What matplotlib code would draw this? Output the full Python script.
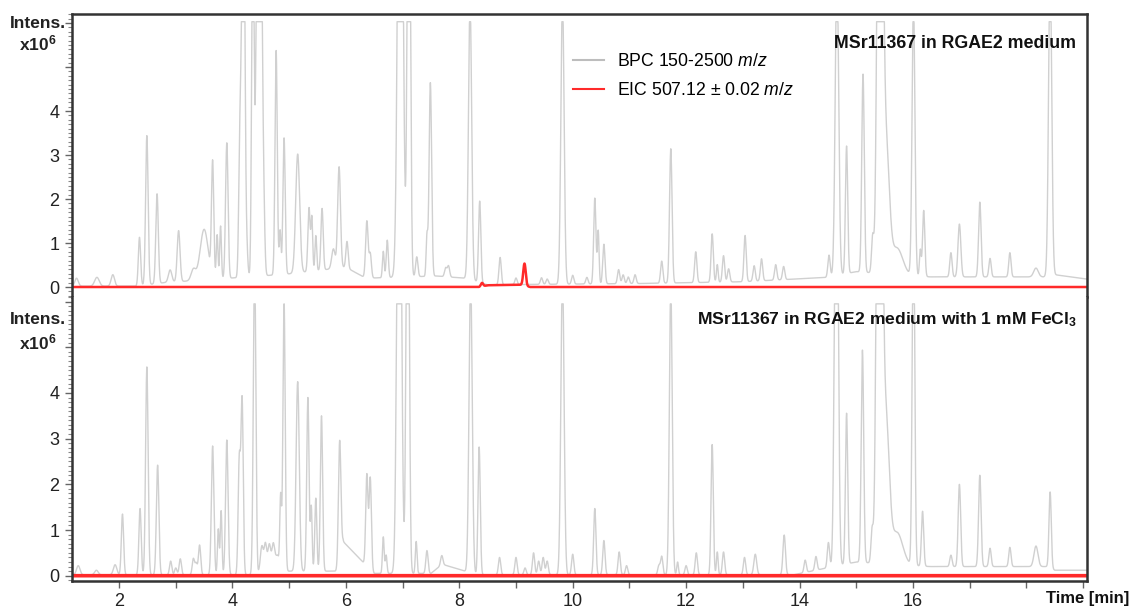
import numpy as np
import matplotlib
matplotlib.use("Agg")
import matplotlib.pyplot as plt
from matplotlib.ticker import MultipleLocator, FixedLocator, FuncFormatter
from matplotlib.lines import Line2D

plt.rcParams['font.family'] = ['Liberation Sans', 'DejaVu Sans']
plt.rcParams['mathtext.fontset'] = 'custom'
plt.rcParams['mathtext.rm'] = 'Liberation Sans'
plt.rcParams['mathtext.it'] = 'Liberation Sans:italic'
plt.rcParams['mathtext.bf'] = 'Liberation Sans:bold'
plt.rcParams['mathtext.default'] = 'regular'

# ---- data (retention time [min], height [x10^6], peak sigma [min])
top_rt = [1.25, 1.61, 1.89, 2.36, 2.49, 2.67, 2.90, 3.05, 3.31, 3.50, 3.65, 3.73, 3.79,
          3.90, 4.13, 4.19, 4.25, 4.36, 4.47, 4.55, 4.77, 4.84, 4.91, 5.15, 5.35, 5.40,
          5.47, 5.58, 5.78, 5.88, 6.02, 6.37, 6.43, 6.66, 6.73, 6.96, 7.11, 7.25, 7.43,
          7.49, 7.76, 7.81, 8.19, 8.36, 8.72, 9.00, 9.45, 9.55, 9.82, 10.00, 10.25, 10.39,
          10.45, 10.55, 10.81, 10.89, 10.98, 11.10, 11.57, 11.73, 12.17, 12.46, 12.55,
          12.66, 12.75, 13.04, 13.20, 13.33, 13.58, 13.72, 14.52, 14.66, 14.83, 15.12,
          15.29, 15.42, 15.52, 15.72, 16.01, 16.13, 16.19, 16.67, 16.82, 17.18, 17.36,
          17.71, 18.17, 18.42]
top_h = [0.18, 0.20, 0.26, 1.10, 3.39, 2.04, 0.28, 1.16, 0.25, 1.15, 2.60, 1.00, 1.20,
         3.08, 3.00, 12.0, 0.60, 9.0, 20.0, 1.20, 5.10, 1.00, 3.10, 2.70, 1.45, 1.20,
         0.80, 1.40, 0.45, 2.30, 0.60, 1.30, 0.55, 0.60, 0.85, 16.0, 14.0, 0.45, 0.90,
         4.40, 0.20, 0.25, 6.3, 1.85, 0.62, 0.15, 0.15, 0.12, 6.5, 0.20, 0.15, 1.95,
         1.20, 0.90, 0.32, 0.20, 0.15, 0.20, 0.50, 3.05, 0.70, 1.10, 0.40,
         0.60, 0.30, 1.05, 0.35, 0.50, 0.35, 0.30, 0.50, 7.0, 2.90, 4.50,
         0.80, 18.0, 3.0, 0.6, 6.2, 0.60, 1.50, 0.55, 1.20, 1.70, 0.42,
         0.55, 0.20, 7.0]
top_w = [0.03, 0.04, 0.03, 0.02, 0.022, 0.022, 0.03, 0.025, 0.04, 0.07, 0.02, 0.015, 0.015,
         0.022, 0.02, 0.025, 0.02, 0.02, 0.035, 0.02, 0.02, 0.015, 0.02, 0.035, 0.02, 0.015,
         0.015, 0.02, 0.03, 0.025, 0.02, 0.022, 0.02, 0.015, 0.018, 0.04, 0.025, 0.02, 0.015,
         0.022, 0.02, 0.02, 0.028, 0.02, 0.02, 0.02, 0.02, 0.02, 0.028, 0.02, 0.02, 0.02,
         0.015, 0.02, 0.02, 0.02, 0.02, 0.02, 0.02, 0.022, 0.02, 0.02, 0.015,
         0.02, 0.02, 0.02, 0.02, 0.02, 0.02, 0.02, 0.02, 0.03, 0.02, 0.022,
         0.02, 0.04, 0.06, 0.10, 0.025, 0.015, 0.02, 0.02, 0.025, 0.022, 0.02,
         0.02, 0.04, 0.028]
top_base_t = [1.17, 2.3, 2.8, 4.5, 5.0, 6.0, 6.35, 7.6, 8.1, 8.5, 11.2, 13.0, 14.5, 15.0,
              16.3, 18.3, 18.5, 19.07]
top_base_h = [0.02, 0.02, 0.10, 0.25, 0.30, 0.45, 0.20, 0.25, 0.20, 0.05, 0.08, 0.12, 0.22,
              0.35, 0.23, 0.23, 0.28, 0.18]

eic_rt = [8.40, 9.15]
eic_h = [0.08, 0.50]
eic_w = [0.02, 0.022]
eic_base_t = [1.17, 8.35, 8.50, 9.10, 9.25, 19.07]
eic_base_h = [0.0, 0.0, 0.04, 0.05, 0.0, 0.0]

bot_rt = [1.28, 1.60, 1.93, 2.06, 2.37, 2.49, 2.68, 2.91, 3.00, 3.08, 3.31, 3.36, 3.42,
          3.65, 3.75, 3.80, 3.90, 4.12, 4.17, 4.39, 4.52, 4.58, 4.65, 4.72, 4.85, 4.91,
          5.15, 5.33, 5.39, 5.47, 5.57, 5.89, 6.37, 6.43, 6.66, 6.71, 6.94, 7.09, 7.24,
          7.43, 7.69, 8.20, 8.35, 8.71, 9.00, 9.16, 9.31, 9.40, 9.48, 9.55, 9.82, 10.00,
          10.39, 10.55, 10.82, 10.95, 11.52, 11.57, 11.73, 11.85, 12.00, 12.18, 12.46,
          12.55, 12.66, 13.03, 13.22, 13.73, 14.10, 14.29, 14.51, 14.65, 14.83, 15.11,
          15.28, 15.41, 15.52, 15.72, 16.01, 16.17, 16.67, 16.82, 17.18, 17.36, 17.71,
          18.17, 18.42]
bot_h = [0.20, 0.10, 0.22, 1.33, 1.45, 4.55, 2.40, 0.30, 0.15, 0.35, 0.35, 0.25, 0.65,
         2.82, 1.00, 1.40, 2.95, 2.50, 3.80, 7.0, 0.30, 0.35, 0.30, 0.30, 1.60, 5.9,
         4.15, 3.80, 1.40, 1.60, 3.40, 2.60, 2.00, 2.00, 0.80, 0.40, 14.0, 12.0, 0.70,
         0.50, 0.20, 6.5, 2.80, 0.38, 0.38, 0.15, 0.48, 0.30, 0.38, 0.30, 6.6, 0.45,
         1.45, 0.75, 0.50, 0.20, 0.20, 0.40, 6.3, 0.28, 0.20, 0.48, 2.85,
         0.50, 0.50, 0.38, 0.45, 0.87, 0.27, 0.30, 0.55, 12.0, 3.30, 4.65,
         0.70, 20.0, 3.2, 0.7, 8.0, 1.20, 0.25, 1.80, 2.00, 0.40, 0.42,
         0.45, 1.65]
bot_w = [0.03, 0.03, 0.03, 0.02, 0.02, 0.022, 0.022, 0.02, 0.02, 0.02, 0.02, 0.02, 0.02,
         0.022, 0.015, 0.015, 0.022, 0.02, 0.02, 0.022, 0.02, 0.02, 0.02, 0.02, 0.015, 0.02,
         0.028, 0.02, 0.015, 0.018, 0.02, 0.022, 0.02, 0.02, 0.015, 0.015, 0.035, 0.025, 0.015,
         0.02, 0.02, 0.028, 0.02, 0.02, 0.02, 0.02, 0.02, 0.02, 0.02, 0.02, 0.028, 0.02,
         0.02, 0.02, 0.02, 0.02, 0.02, 0.02, 0.025, 0.015, 0.02, 0.02, 0.02,
         0.015, 0.02, 0.02, 0.025, 0.022, 0.02, 0.02, 0.02, 0.03, 0.02, 0.022,
         0.02, 0.04, 0.06, 0.10, 0.022, 0.02, 0.02, 0.022, 0.022, 0.02, 0.02,
         0.035, 0.02]
bot_base_t = [1.17, 4.45, 4.50, 4.80, 4.86, 5.85, 5.95, 6.30, 6.50, 7.50, 7.70, 8.10, 8.20,
              13.9, 14.6, 15.0, 16.3, 18.4, 18.5, 19.07]
bot_base_h = [0.02, 0.02, 0.35, 0.45, 0.10, 0.10, 0.75, 0.30, 0.05, 0.05, 0.25, 0.10, 0.02,
              0.02, 0.20, 0.30, 0.20, 0.20, 0.12, 0.12]

TOP_SAT = 6.03   # detector saturation seen as flat tops
BOT_SAT = 5.95


def trace(t, rts, hs, ws, base_t, base_h, cap=None):
    y = np.interp(t, base_t, base_h)
    for rt, h, w in zip(rts, hs, ws):
        y = y + h * np.exp(-0.5 * ((t - rt) / w) ** 2)
    if cap is not None:
        y = np.minimum(y, cap)
    return y


t = np.linspace(1.17, 19.07, 8000)
bpc_top = trace(t, top_rt, top_h, top_w, top_base_t, top_base_h, TOP_SAT)
eic_top = trace(t, eic_rt, eic_h, eic_w, eic_base_t, eic_base_h)
bpc_bot = trace(t, bot_rt, bot_h, bot_w, bot_base_t, bot_base_h, BOT_SAT)
eic_bot = np.zeros_like(t)

W, H = 1131, 611
fig = plt.figure(figsize=(W / 100, H / 100), dpi=100)
left, right = 72, 1087
ax1 = fig.add_axes([left / W, (H - 297) / H, (right - left) / W, (297 - 14) / H])
ax2 = fig.add_axes([left / W, (H - 581) / H, (right - left) / W, (581 - 297) / H])

gray = '#d0d0d0'
red = '#ff2a2a'
ax1.plot(t, bpc_top, color=gray, lw=1.0)
ax1.plot(t, eic_top, color=red, lw=1.8)
ax2.plot(t, bpc_bot, color=gray, lw=1.0)
ax2.plot(t, eic_bot, color=red, lw=2.6)

ax1.set_ylim(-0.227, 6.205)
ax2.set_ylim(-0.116, 6.10)

for ax in (ax1, ax2):
    ax.set_xlim(1.17, 19.07)
    ax.yaxis.set_major_locator(FixedLocator([0, 1, 2, 3, 4, 5, 6]))
    ax.yaxis.set_major_formatter(FuncFormatter(lambda v, p: '%d' % v if v <= 4 else ''))
    ax.yaxis.set_minor_locator(MultipleLocator(0.1))
    ax.tick_params(axis='y', which='major', length=5, width=1, color='#666666',
                   labelsize=13, labelcolor='#222222', pad=4)
    ax.tick_params(axis='y', which='minor', length=3, width=0.8, color='#888888')
    for s in ('left', 'right'):
        ax.spines[s].set_color('#333333')
        ax.spines[s].set_linewidth(1.8)

ax1.spines['bottom'].set_visible(False)
ax2.spines['top'].set_visible(False)
ax1.spines['top'].set_color('#333333')
ax1.spines['top'].set_linewidth(1.8)
ax2.spines['bottom'].set_color('#333333')
ax2.spines['bottom'].set_linewidth(1.8)
ax1.tick_params(axis='x', bottom=False, labelbottom=False)

ax2.xaxis.set_major_locator(MultipleLocator(1))
ax2.xaxis.set_major_formatter(
    FuncFormatter(lambda v, p: '%d' % v if (round(v) % 2 == 0 and v <= 16) else ''))
ax2.tick_params(axis='x', length=5, width=1, color='#666666', labelsize=13,
                labelcolor='#222222', pad=4)

# labels
for y0, y1 in ((23, 43), (320, 342)):
    fig.text(38 / W, 1 - y0 / H, 'Intens.', ha='center', va='center',
             fontsize=12.5, fontweight='bold', color='#222222')
    fig.text(38 / W, 1 - y1 / H, 'x10$^6$', ha='center', va='center',
             fontsize=12.5, fontweight='bold', color='#222222')

fig.text(1076 / W, 1 - 43 / H, 'MSr11367 in RGAE2 medium', ha='right', va='center',
         fontsize=12.8, fontweight='bold', color='#111111')
fig.text(1077 / W, 1 - 320 / H, 'MSr11367 in RGAE2 medium with 1 mM FeCl$_3$',
         ha='right', va='center', fontsize=12.6, fontweight='bold', color='#111111')
fig.text(1129 / W, 1 - 598 / H, 'Time [min]', ha='right', va='center', fontsize=12,
         fontweight='bold', color='#111111',
         family=['Liberation Sans Narrow', 'Liberation Sans'])

handles = [Line2D([], [], color='#bdbdbd', lw=1.5), Line2D([], [], color=red, lw=1.5)]
labels = ['BPC 150-2500 $\\mathit{m/z}$', 'EIC 507.12 \u00b1 0.02 $\\mathit{m/z}$']
ax1.legend(handles, labels, loc='upper left', bbox_to_anchor=(573 / W, 1 - 53 / H),
           bbox_transform=fig.transFigure, frameon=False, fontsize=12.7,
           handlelength=1.75, handletextpad=0.75, labelspacing=0.7, borderpad=0,
           borderaxespad=0)

fig.savefig('out.png', dpi=100)
